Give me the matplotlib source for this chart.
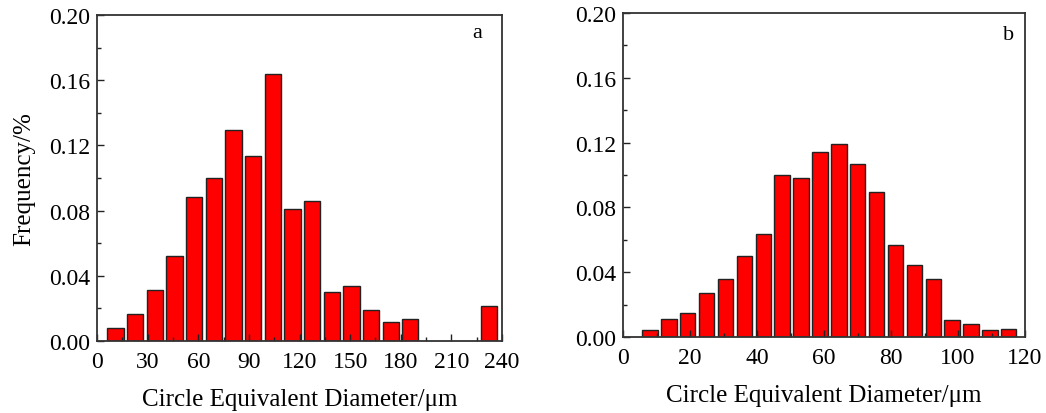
import matplotlib
matplotlib.use("Agg")
import matplotlib.pyplot as plt
from matplotlib.ticker import MultipleLocator, FormatStrFormatter

plt.rcParams['font.family'] = ['Liberation Serif', 'DejaVu Serif']
plt.rcParams['mathtext.fontset'] = 'stix'

# Panel a
a_centers = [10.96, 22.61, 34.26, 45.91, 57.56, 69.21, 80.86, 92.51, 104.16, 115.81,
             127.46, 139.11, 150.76, 162.41, 174.06, 185.71, 232.3]
a_freq = [0.0082, 0.0166, 0.0311, 0.0521, 0.0885, 0.1002, 0.1294, 0.1135, 0.1638, 0.0812,
          0.0861, 0.0303, 0.0339, 0.0192, 0.0115, 0.0137, 0.0215]
a_xticks = [0, 30, 60, 90, 120, 150, 180, 210, 240]

# Panel b
b_centers = [8.05, 13.69, 19.32, 24.96, 30.60, 36.23, 41.87, 47.51, 53.15, 58.78,
             64.42, 70.06, 75.69, 81.33, 86.97, 92.61, 98.24, 103.88, 109.52, 115.15]
b_freq = [0.0045, 0.0109, 0.0148, 0.0272, 0.0359, 0.0499, 0.0635, 0.0998, 0.0984, 0.1144,
          0.1194, 0.1066, 0.0895, 0.0565, 0.0445, 0.0361, 0.0105, 0.0080, 0.0045, 0.0052]
b_xticks = [0, 20, 40, 60, 80, 100, 120]

yticks = [0.00, 0.04, 0.08, 0.12, 0.16, 0.20]

fig = plt.figure(figsize=(10.46, 4.14), dpi=100)
W, H = 1046, 414
axA = fig.add_axes([97/W, 1 - 342/H, (502 - 97)/W, (342 - 16)/H])
axB = fig.add_axes([623/W, 1 - 338/H, (1025 - 623)/W, (338 - 14)/H])

def style(ax, xticks, xmax, minor_x, label, lx, ly):
    ax.set_xlim(0, xmax)
    ax.set_ylim(0, 0.20)
    ax.set_xticks(xticks)
    ax.set_yticks(yticks)
    ax.xaxis.set_minor_locator(MultipleLocator(minor_x))
    ax.yaxis.set_minor_locator(MultipleLocator(0.02))
    ax.yaxis.set_major_formatter(FormatStrFormatter('%.2f'))
    ax.tick_params(which='both', direction='in', top=False, right=False,
                   labelsize=17, color='#222222')
    ax.tick_params(which='major', length=5, width=1)
    ax.tick_params(which='minor', length=3, width=1)
    ax.tick_params(axis='x', pad=7)
    ax.tick_params(axis='y', pad=5)
    for s in ax.spines.values():
        s.set_linewidth(1.3)
        s.set_color('#333333')
    ax.set_xlabel('Circle Equivalent Diameter/\u03bcm', fontsize=18, labelpad=12)
    ax.text(lx, ly, label, transform=ax.transAxes, fontsize=16,
            ha='center', va='center')

axA.bar(a_centers, a_freq, width=9.6, color='#ff0000', edgecolor='#222222', linewidth=1.0)
style(axA, a_xticks, 240, 15, 'a', 0.938, 0.945)
axA.set_ylabel('Frequency/%', fontsize=18, labelpad=10)

axB.bar(b_centers, b_freq, width=4.6, color='#ff0000', edgecolor='#222222', linewidth=1.0)
style(axB, b_xticks, 120, 10, 'b', 0.958, 0.935)

fig.savefig('out.png', dpi=100)
